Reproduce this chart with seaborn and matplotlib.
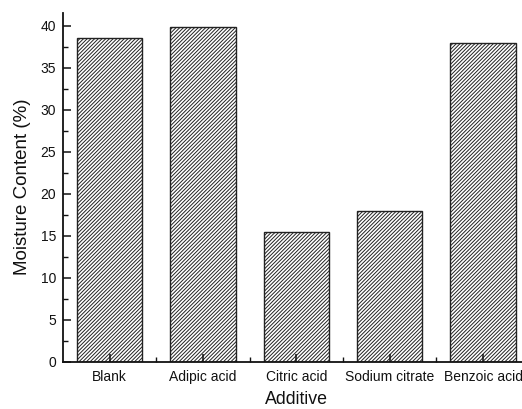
import matplotlib
matplotlib.use("Agg")
import matplotlib.pyplot as plt
from matplotlib.ticker import MultipleLocator, FixedLocator
import seaborn as sns
import pandas as pd

additives = ["Blank", "Adipic acid", "Citric acid", "Sodium citrate", "Benzoic acid"]
moisture = [38.6, 39.8, 15.5, 17.9, 37.9]

sns.set_style("ticks")
plt.rcParams["font.family"] = ["Liberation Sans", "DejaVu Sans"]
plt.rcParams["hatch.color"] = "#555555"
plt.rcParams["hatch.linewidth"] = 0.7

df = pd.DataFrame({"Additive": additives, "Moisture": moisture})

fig = plt.figure(figsize=(5.22, 4.09), dpi=100)
ax = fig.add_axes([0.1207, 0.1157, 0.894, 0.853])

sns.barplot(data=df, x="Additive", y="Moisture", color="white",
            edgecolor="#222222", linewidth=1.0, width=0.7, ax=ax)
for p in ax.patches:
    p.set_hatch("/////////")
    p.set_facecolor("white")

ax.set_axisbelow(False)
ax.set_xlim(-0.5, 4.5)
ax.set_ylim(0, 41.55)
ax.yaxis.set_major_locator(MultipleLocator(5))
ax.yaxis.set_minor_locator(MultipleLocator(2.5))
ax.xaxis.set_minor_locator(FixedLocator([0.5, 1.5, 2.5, 3.5]))

ax.tick_params(axis="both", which="major", direction="in", length=6, width=1.1,
               labelsize=10, color="#111111", labelcolor="#111111")
ax.tick_params(axis="both", which="minor", direction="in", length=3.5, width=1.0,
               color="#111111")
ax.tick_params(axis="y", which="major", pad=5)
ax.tick_params(axis="x", which="major", pad=6)

for side in ["top", "right"]:
    ax.spines[side].set_visible(False)
for side in ["left", "bottom"]:
    ax.spines[side].set_linewidth(1.3)
    ax.spines[side].set_color("#111111")

ax.set_xlabel("Additive", fontsize=12.8, labelpad=5, color="#111111")
ax.set_ylabel("Moisture Content (%)", fontsize=13.5, labelpad=7, color="#111111")

fig.savefig("out.png", dpi=100)
